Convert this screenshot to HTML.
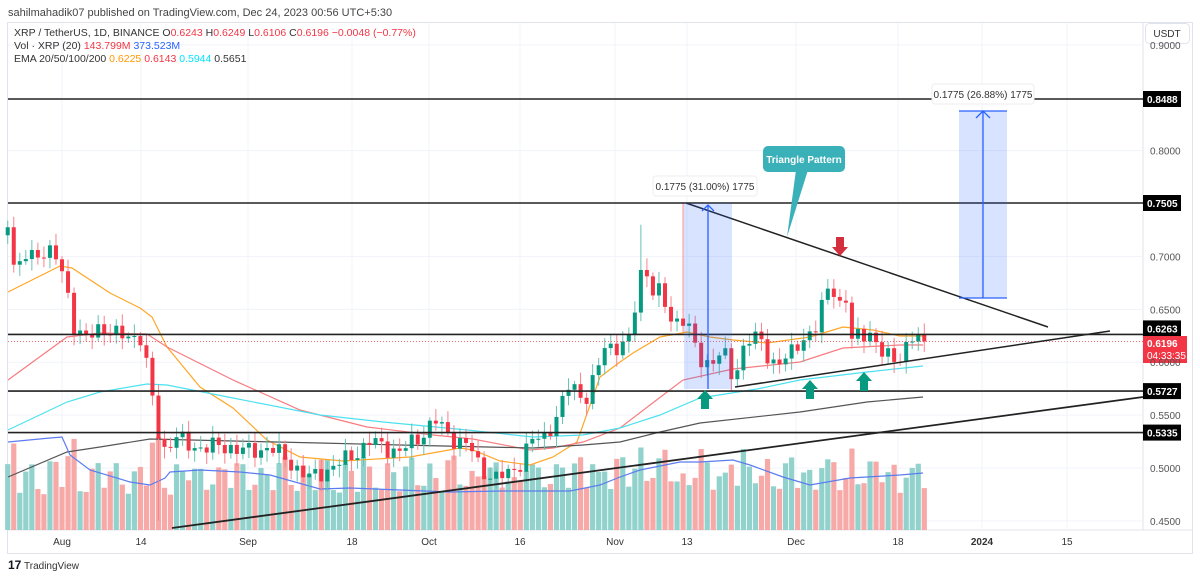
<!DOCTYPE html>
<html><head><meta charset="utf-8">
<style>
body{margin:0;background:#fff;width:1200px;height:578px;overflow:hidden;font-family:"Liberation Sans",sans-serif;}
svg{position:absolute;left:0;top:0}
</style></head>
<body>
<svg id="s" width="1200" height="578" xmlns="http://www.w3.org/2000/svg" font-family="Liberation Sans, sans-serif">
<rect x="0" y="0" width="1200" height="578" fill="#fff"/>
<rect x="7.5" y="22.5" width="1185" height="531" fill="none" stroke="#e0e3eb"/>
<line x1="1143" y1="22" x2="1143" y2="530" stroke="#e0e3eb"/>
<line x1="7" y1="530" x2="1193" y2="530" stroke="#e0e3eb"/>
<g id="grid" stroke="#f0f3fa" stroke-width="1"></g>
<g id="vol"></g>
<g id="lines" fill="none"></g>
<g id="cand"></g>
<g id="draw"></g>
<text x="8" y="16" font-size="11" fill="#444">sahilmahadik07 published on TradingView.com, Dec 24, 2023 00:56 UTC+5:30</text>
<text x="14" y="36" font-size="10.5" fill="#333">XRP / TetherUS, 1D, BINANCE  <tspan>O</tspan><tspan fill="#f23645">0.6243</tspan>  H<tspan fill="#f23645">0.6249</tspan>  L<tspan fill="#f23645">0.6106</tspan>  C<tspan fill="#f23645">0.6196</tspan>  <tspan fill="#f23645">−0.0048 (−0.77%)</tspan></text>
<text x="14" y="49" font-size="10.5" fill="#333">Vol · XRP (20)  <tspan fill="#f23645">143.799M</tspan>  <tspan fill="#2962ff">373.523M</tspan></text>
<text x="14" y="62" font-size="10.5" fill="#333">EMA 20/50/100/200  <tspan fill="#ff9800">0.6225</tspan>  <tspan fill="#f23645">0.6143</tspan>  <tspan fill="#00e5ff">0.5944</tspan>  0.5651</text>
<rect x="1145.5" y="23.5" width="44" height="20" rx="4" fill="#fff" stroke="#e0e3eb"/>
<text x="1167" y="37" font-size="10" fill="#333" text-anchor="middle">USDT</text>
<g id="axis" font-size="10" fill="#555"></g>
<g font-size="10" fill="#333" text-anchor="middle">
<text x="62" y="545">Aug</text><text x="141" y="545">14</text><text x="248" y="545">Sep</text><text x="352" y="545">18</text><text x="429" y="545">Oct</text><text x="520" y="545">16</text><text x="615" y="545">Nov</text><text x="687" y="545">13</text><text x="796" y="545">Dec</text><text x="898" y="545">18</text><text x="982" y="545" font-weight="bold">2024</text><text x="1067" y="545">15</text>
</g>
<text x="8" y="569" font-size="12" font-weight="bold" fill="#131722">17</text>
<text x="24" y="569" font-size="10" fill="#333">TradingView</text>
</svg>
<script>
const NS="http://www.w3.org/2000/svg";
function el(p,t,a,txt){const e=document.createElementNS(NS,t);for(const k in a)e.setAttribute(k,a[k]);if(txt!==undefined)e.textContent=txt;document.getElementById(p).appendChild(e);return e;}
const Y=p=>203+(0.7505-p)*1058;
[0.9,0.8,0.7,0.65,0.6,0.55,0.5,0.45].forEach(p=>{const y=Y(p);el('grid','line',{x1:8,x2:1143,y1:y,y2:y});el('axis','text',{x:1150,y:y+4},p.toFixed(4));});
[62,141,248,352,429,520,615,687,796,898,982,1067].forEach(x=>el('grid','line',{x1:x,x2:x,y1:23,y2:530}));
const K=[[8,0.735],[15,0.68],[25,0.70],[40,0.705],[55,0.70],[65,0.68],[75,0.63],[85,0.62],[100,0.635],[115,0.625],[140,0.625],[148,0.59],[155,0.55],[162,0.515],[175,0.53],[190,0.52],[210,0.52],[230,0.52],[250,0.515],[270,0.52],[290,0.505],[310,0.49],[330,0.50],[350,0.51],[370,0.525],[400,0.515],[420,0.53],[435,0.545],[450,0.53],[470,0.52],[480,0.50],[495,0.49],[510,0.495],[520,0.505],[530,0.525],[545,0.53],[560,0.555],[570,0.58],[585,0.565],[595,0.585],[605,0.615],[615,0.615],[630,0.62],[638,0.67],[644,0.70],[650,0.67],[660,0.665],[670,0.64],[680,0.64],[686,0.645],[692,0.62],[700,0.6],[710,0.6],[720,0.61],[728,0.60],[734,0.575],[740,0.61],[750,0.625],[760,0.62],[770,0.60],[790,0.605],[805,0.625],[818,0.635],[824,0.66],[832,0.675],[838,0.655],[846,0.66],[852,0.62],[862,0.625],[870,0.63],[880,0.61],[895,0.60],[905,0.615],[915,0.625],[924,0.6196]];
function interp(x){for(let i=0;i<K.length-1;i++){if(x<=K[i+1][0]){const t=(x-K[i][0])/(K[i+1][0]-K[i][0]);return K[i][1]+t*(K[i+1][1]-K[i][1]);}}return K[K.length-1][1];}
let prev=0.72;
for(let d=-9;d<=143;d++){
 const x=62+6.03*d;
 let c=interp(x)+0.006*Math.sin(d*2.3)+0.004*Math.sin(d*5.1);
 if(d==143)c=0.6196;
 const o=prev;
 let hi=Math.max(o,c)+0.003+0.008*Math.abs(Math.sin(d*1.7));
 let lo=Math.min(o,c)-0.003-0.008*Math.abs(Math.cos(d*1.3));
 if(d==16)lo=0.45;
 if(d==96)hi=0.73;
 if(d==103)hi=0.75;
 const up=c>=o,col=up?'#089981':'#f23645';
 el('cand','line',{x1:x,x2:x,y1:Y(hi),y2:Y(lo),stroke:up?'#66c2b4':'#f7828d','stroke-width':1});
 const y1=Y(Math.max(o,c)),y2=Y(Math.min(o,c));
 el('cand','rect',{x:x-2,y:y1,width:4,height:Math.max(1,y2-y1),fill:col});
 let h=18+32*Math.abs(Math.sin(d*0.9))+16*Math.abs(Math.cos(d*2.7))+Math.abs(c-o)*800;
 h=Math.min(h,105);
 el('vol','rect',{x:x-2.6,y:530-h,width:5.2,height:h,fill:up?'#92d2cc':'#f7a9a7'});
 prev=c;
}
function pl(pts,c,w){el('lines','polyline',{points:pts.map(p=>p.join(',')).join(' '),stroke:c,'stroke-width':w||1.2});}
pl([[8,292],[60,266],[72,268],[110,293],[140,308],[152,317],[167,347],[200,387],[233,408],[267,440],[300,457],[343,461],[410,457],[460,448],[473,450],[500,461],[530,465],[553,457],[577,442],[600,377],[620,362],[633,353],[660,337],[687,332],[710,337],[733,340],[767,343],[810,337],[843,327],[873,330],[900,336],[923,336]],'#ffa726');
pl([[8,380],[67,337],[100,333],[147,334],[167,347],[233,380],[300,410],[367,427],[433,435],[473,439],[530,450],[553,448],[583,442],[620,428],[650,405],[683,380],[733,369],[800,362],[843,348],[900,345],[923,345]],'#f77c80');
pl([[8,430],[67,402],[100,392],[147,384],[167,385],[233,398],[320,415],[383,422],[467,430],[533,437],[583,435],[620,428],[660,415],[700,398],[757,389],[800,380],[867,372],[923,366]],'#4de1f0');
pl([[8,477],[67,452],[100,447],[150,439],[233,441],[320,443],[400,445],[487,447],[533,448],[583,445],[620,442],[660,432],[700,423],[800,412],[867,402],[923,397]],'#555');
pl([[8,442],[50,438],[62,437],[70,455],[90,470],[130,482],[150,485],[165,478],[170,472],[200,470],[240,472],[270,475],[320,489],[350,488],[400,490],[450,492],[500,491],[570,491],[600,485],[620,477],[640,470],[680,462],[700,462],[733,460],[750,465],[783,477],[810,485],[850,478],[900,475],[923,473]],'#5b7cf0');
const D='draw';
el(D,'line',{x1:8,x2:1143,y1:Y(0.6196),y2:Y(0.6196),stroke:'#f23645','stroke-dasharray':'1,2','stroke-width':0.8});
[0.8488,0.7505,0.6263,0.5727,0.5335].forEach(p=>{const y=Y(p);el(D,'line',{x1:8,x2:1143,y1:y,y2:y,stroke:'#222','stroke-width':1.6});});
el(D,'line',{x1:172,y1:528,x2:1143,y2:397,stroke:'#222','stroke-width':1.8});
el(D,'line',{x1:686,y1:203,x2:1048,y2:327,stroke:'#222','stroke-width':1.5});
el(D,'line',{x1:735,y1:387,x2:1110,y2:331,stroke:'#222','stroke-width':1.5});
el(D,'rect',{x:684,y:203,width:48,height:186,fill:'#2962ff',opacity:0.18});
el(D,'line',{x1:708,x2:708,y1:205,y2:389,stroke:'#2962ff','stroke-width':1.3});
el(D,'polyline',{points:'702,211 708,205 714,211',fill:'none',stroke:'#2962ff','stroke-width':1.3});
el(D,'rect',{x:959,y:111,width:48,height:187,fill:'#2962ff',opacity:0.18});
el(D,'line',{x1:959,x2:1007,y1:111,y2:111,stroke:'#2962ff','stroke-width':1.3});
el(D,'line',{x1:959,x2:1007,y1:298,y2:298,stroke:'#2962ff','stroke-width':1.3});
el(D,'line',{x1:983,x2:983,y1:111,y2:298,stroke:'#2962ff','stroke-width':1.3});
el(D,'polyline',{points:'976,118 983,111 990,118',fill:'none',stroke:'#2962ff','stroke-width':1.3});
el(D,'rect',{x:653,y:176,width:104,height:20,rx:3,fill:'#fff',stroke:'#eee'});
el(D,'text',{x:705,y:190,'font-size':10,'text-anchor':'middle',fill:'#333'},'0.1775 (31.00%) 1775');
el(D,'rect',{x:932,y:84,width:102,height:20,rx:3,fill:'#fff',stroke:'#eee'});
el(D,'text',{x:983,y:98,'font-size':10,'text-anchor':'middle',fill:'#333'},'0.1775 (26.88%) 1775');
el(D,'polygon',{points:'796,170 808,170 787,237',fill:'#3ab0b8'});
el(D,'rect',{x:763,y:146,width:82,height:26,rx:5,fill:'#3ab0b8'});
el(D,'text',{x:804,y:163,'font-size':10,'text-anchor':'middle',fill:'#fff','font-weight':'bold'},'Triangle Pattern');
function arr(x,y,c,down){const s=down?-1:1;el(D,'polygon',{points:`${x},${y} ${x+8},${y+9*s} ${x+4},${y+9*s} ${x+4},${y+19*s} ${x-4},${y+19*s} ${x-4},${y+9*s} ${x-8},${y+9*s}`,fill:c});}
arr(840,256,'#d32f3f',true);arr(705,390,'#089981');arr(810,380,'#089981');arr(864,372,'#089981');
[0.8488,0.7505,0.6263,0.5727,0.5335].forEach(p=>{let y=Y(p);if(p==0.6263)y-=6;el(D,'rect',{x:1143,y:y-8,width:38,height:16,fill:'#000'});el(D,'text',{x:1147,y:y+4,'font-size':10,fill:'#fff','font-weight':'bold'},p.toFixed(4));});
el(D,'rect',{x:1143,y:336,width:44,height:27,fill:'#f23645'});
el(D,'text',{x:1147,y:347,'font-size':10,fill:'#fff','font-weight':'bold'},'0.6196');
el(D,'text',{x:1147,y:359,'font-size':10,fill:'#fff'},'04:33:35');
</script>
</body></html>
